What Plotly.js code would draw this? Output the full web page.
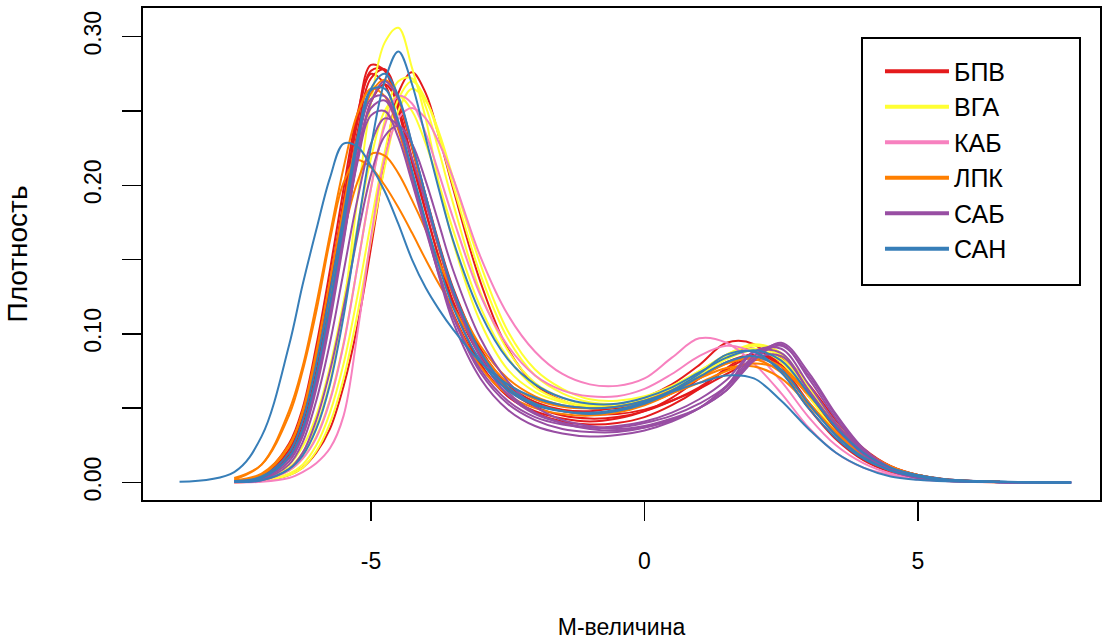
<!DOCTYPE html>
<html>
<head>
<meta charset="utf-8">
<script src="https://cdn.plot.ly/plotly-3.0.1.min.js"></script>
<style>html,body{margin:0;padding:0;background:#fff}#chart{width:1104px;height:644px}</style>
</head>
<body>
<div id="chart"></div>
<script>
// M-value grid (x) shared by all density curves
const mGrid = [-8.5,-7.5,-7,-6.5,-6.25,-6,-5.75,-5.5,-5.25,-5,-4.75,-4.5,-4.25,-4,-3.75,-3.5,-3,-2.5,-2,-1.5,-1,-0.5,0,0.5,1,1.5,2,2.5,3,3.5,4,4.5,5,5.5,6.5,7.8];

const groupNames = ["БПВ","ВГА","КАБ","ЛПК","САБ","САН"];
const groupColors = ["#E41A1C","#FFFF33","#F781BF","#FF7F00","#984EA3","#377EB8"];

// density values, one row per array
const densBPV = [
 [null,0.001,0.004,0.022,0.045,0.085,0.135,0.19,0.245,0.281,0.277,0.25,0.215,0.182,0.15,0.122,0.085,0.064,0.054,0.049,0.048,0.051,0.057,0.066,0.079,0.094,0.093,0.075,0.05,0.029,0.015,0.007,0.003,0.0015,0.0003,null],
 [null,0.001,0.003,0.018,0.038,0.075,0.125,0.18,0.235,0.272,0.278,0.258,0.225,0.19,0.157,0.128,0.088,0.063,0.051,0.045,0.043,0.044,0.048,0.055,0.064,0.076,0.085,0.081,0.06,0.037,0.02,0.01,0.004,0.002,0.0004,null],
 [null,0.001,0.005,0.026,0.05,0.092,0.143,0.198,0.248,0.275,0.268,0.24,0.205,0.172,0.14,0.114,0.079,0.058,0.048,0.043,0.041,0.043,0.048,0.057,0.07,0.085,0.09,0.078,0.054,0.032,0.017,0.008,0.003,0.0015,0.0003,null],
 [null,0,0.001,0.005,0.01,0.02,0.036,0.065,0.105,0.158,0.215,0.262,0.276,0.262,0.232,0.198,0.135,0.09,0.066,0.055,0.05,0.05,0.053,0.06,0.07,0.081,0.086,0.079,0.058,0.036,0.02,0.01,0.005,0.0022,0.0004,null],
 [null,0.0008,0.003,0.017,0.035,0.068,0.113,0.165,0.218,0.256,0.268,0.255,0.226,0.193,0.16,0.131,0.09,0.066,0.054,0.048,0.046,0.046,0.049,0.055,0.063,0.073,0.082,0.084,0.066,0.042,0.023,0.011,0.005,0.002,0.0004,null],
 [null,0.001,0.004,0.02,0.042,0.082,0.132,0.188,0.242,0.277,0.278,0.253,0.218,0.183,0.15,0.12,0.08,0.058,0.047,0.041,0.039,0.04,0.044,0.052,0.063,0.077,0.087,0.084,0.065,0.041,0.022,0.011,0.005,0.002,0.0004,null]
];
const densVGA = [
 [null,0.0005,0.002,0.01,0.02,0.038,0.068,0.118,0.19,0.256,0.296,0.306,0.279,0.245,0.2,0.162,0.108,0.076,0.061,0.054,0.051,0.052,0.056,0.064,0.075,0.085,0.09,0.081,0.058,0.034,0.017,0.008,0.003,0.0012,0.0001,null],
 [null,0.0003,0.001,0.006,0.012,0.025,0.047,0.08,0.125,0.175,0.222,0.258,0.27,0.258,0.232,0.2,0.14,0.097,0.072,0.06,0.054,0.053,0.056,0.063,0.073,0.083,0.09,0.085,0.064,0.039,0.02,0.009,0.004,0.0015,0.0002,null],
 [null,0.0002,0.001,0.005,0.01,0.021,0.04,0.07,0.113,0.163,0.212,0.25,0.265,0.257,0.235,0.205,0.147,0.102,0.076,0.063,0.056,0.055,0.058,0.065,0.075,0.086,0.092,0.086,0.065,0.04,0.021,0.01,0.004,0.0015,0.0002,null],
 [null,0.0003,0.0015,0.008,0.016,0.031,0.056,0.094,0.145,0.198,0.243,0.27,0.272,0.253,0.222,0.188,0.128,0.089,0.067,0.057,0.052,0.052,0.055,0.062,0.072,0.083,0.089,0.083,0.062,0.038,0.02,0.009,0.004,0.0015,0.0002,null],
 [null,0.0005,0.002,0.012,0.024,0.045,0.078,0.122,0.172,0.218,0.25,0.26,0.25,0.228,0.2,0.17,0.118,0.084,0.064,0.055,0.051,0.051,0.055,0.063,0.074,0.086,0.093,0.087,0.064,0.039,0.02,0.009,0.004,0.0015,0.0002,null]
];
const densKAB = [
 [null,0,0.0005,0.003,0.007,0.013,0.023,0.045,0.1,0.165,0.218,0.245,0.252,0.245,0.228,0.205,0.152,0.113,0.088,0.073,0.066,0.065,0.07,0.084,0.097,0.094,0.08,0.06,0.037,0.02,0.01,0.005,0.002,0.001,0.0001,null],
 [null,0.0003,0.0015,0.008,0.016,0.03,0.055,0.093,0.145,0.198,0.24,0.26,0.255,0.235,0.207,0.178,0.126,0.092,0.072,0.062,0.058,0.058,0.063,0.073,0.085,0.092,0.087,0.068,0.044,0.025,0.013,0.006,0.0025,0.001,0.0001,null]
];
const densLPK = [
 [null,0.003,0.012,0.045,0.075,0.115,0.163,0.202,0.217,0.212,0.2,0.185,0.168,0.15,0.133,0.118,0.088,0.067,0.056,0.051,0.05,0.051,0.055,0.062,0.07,0.077,0.078,0.07,0.052,0.033,0.018,0.009,0.004,0.0017,0.0003,null],
 [null,0.0015,0.006,0.025,0.047,0.083,0.125,0.168,0.202,0.221,0.22,0.208,0.19,0.17,0.148,0.127,0.092,0.07,0.058,0.052,0.05,0.051,0.054,0.06,0.067,0.075,0.08,0.076,0.059,0.038,0.021,0.01,0.005,0.002,0.0003,null],
 [null,0.002,0.012,0.048,0.078,0.12,0.167,0.212,0.248,0.265,0.26,0.237,0.205,0.172,0.14,0.113,0.078,0.059,0.05,0.046,0.045,0.047,0.052,0.06,0.07,0.08,0.083,0.074,0.054,0.034,0.019,0.009,0.004,0.0018,0.0003,null],
 [null,0.001,0.005,0.024,0.048,0.088,0.136,0.186,0.232,0.262,0.271,0.258,0.226,0.19,0.156,0.126,0.087,0.064,0.053,0.048,0.046,0.048,0.053,0.061,0.071,0.08,0.084,0.078,0.06,0.039,0.022,0.011,0.005,0.002,0.0004,null]
];
const densSAB = [
 [null,0.0008,0.003,0.017,0.036,0.071,0.118,0.172,0.225,0.258,0.26,0.24,0.207,0.173,0.14,0.112,0.074,0.053,0.042,0.036,0.034,0.034,0.037,0.042,0.05,0.062,0.083,0.085,0.062,0.038,0.019,0.008,0.003,0.0012,0.0002,0],
 [null,0.0008,0.003,0.016,0.034,0.067,0.112,0.164,0.215,0.247,0.25,0.232,0.202,0.17,0.139,0.112,0.076,0.055,0.044,0.039,0.037,0.038,0.041,0.047,0.056,0.069,0.088,0.087,0.062,0.037,0.019,0.008,0.003,0.0012,0.0002,0],
 [null,0.0006,0.0025,0.014,0.031,0.063,0.108,0.162,0.217,0.256,0.27,0.258,0.228,0.193,0.158,0.127,0.084,0.059,0.046,0.04,0.037,0.037,0.04,0.045,0.053,0.065,0.088,0.09,0.066,0.04,0.02,0.009,0.004,0.0014,0.0002,0],
 [null,0.0005,0.002,0.012,0.027,0.055,0.094,0.142,0.19,0.228,0.245,0.24,0.218,0.188,0.157,0.128,0.087,0.061,0.047,0.04,0.036,0.035,0.037,0.042,0.05,0.065,0.085,0.093,0.07,0.043,0.021,0.009,0.004,0.0015,0.0002,0],
 [null,0.0004,0.0015,0.009,0.02,0.042,0.075,0.118,0.165,0.207,0.233,0.24,0.228,0.203,0.173,0.143,0.097,0.068,0.051,0.042,0.038,0.036,0.038,0.043,0.05,0.062,0.082,0.094,0.074,0.046,0.023,0.01,0.004,0.0015,0.0002,0],
 [null,0.0007,0.003,0.016,0.034,0.068,0.115,0.168,0.22,0.252,0.257,0.24,0.208,0.172,0.138,0.108,0.07,0.049,0.038,0.033,0.031,0.032,0.035,0.041,0.05,0.064,0.083,0.092,0.072,0.045,0.022,0.01,0.004,0.0015,0.0002,0]
];
const densSAN = [
 [0.0004,0.007,0.031,0.092,0.133,0.17,0.205,0.228,0.226,0.213,0.196,0.174,0.15,0.131,0.116,0.103,0.081,0.066,0.057,0.052,0.05,0.051,0.055,0.061,0.067,0.072,0.07,0.055,0.036,0.02,0.01,0.004,0.0018,0.0008,0.0002,0],
 [null,0.0003,0.0015,0.009,0.018,0.036,0.066,0.112,0.17,0.226,0.27,0.29,0.268,0.232,0.196,0.163,0.114,0.083,0.066,0.057,0.053,0.053,0.057,0.064,0.074,0.084,0.089,0.082,0.06,0.037,0.02,0.01,0.005,0.0022,0.0006,0],
 [null,0.001,0.004,0.02,0.042,0.08,0.128,0.18,0.232,0.264,0.265,0.243,0.21,0.176,0.145,0.118,0.082,0.062,0.052,0.048,0.047,0.049,0.054,0.062,0.073,0.086,0.088,0.074,0.05,0.03,0.016,0.008,0.004,0.0018,0.0004,0],
 [null,0.0008,0.003,0.017,0.036,0.072,0.12,0.174,0.228,0.265,0.275,0.26,0.228,0.193,0.159,0.13,0.088,0.064,0.053,0.048,0.046,0.048,0.053,0.061,0.071,0.081,0.085,0.076,0.053,0.032,0.017,0.008,0.004,0.0018,0.0004,0]
];

const yTickVals = [0,0.05,0.1,0.15,0.2,0.25,0.3];
const yTickText = ["0.00","","0.10","","0.20","","0.30"];
const xTickVals = [-5,0,5];
const xTickText = ["-5","0","5"];

const groups = [densBPV, densVGA, densKAB, densLPK, densSAB, densSAN];
const traces = [];
groups.forEach((g, gi) => {
  g.forEach(yv => {
    traces.push({
      type: "scatter", mode: "lines", x: mGrid, y: yv,
      line: {color: groupColors[gi], width: 2, shape: "spline", smoothing: 1},
      connectgaps: false, showlegend: false, hoverinfo: "skip", name: groupNames[gi]
    });
  });
});
groupNames.forEach((n, gi) => {
  traces.push({
    type: "scatter", mode: "lines", x: [null], y: [null], name: n,
    line: {color: groupColors[gi], width: 4}, showlegend: true, hoverinfo: "skip"
  });
});

const narrow = "Liberation Sans Narrow, Arial Narrow, Liberation Sans, Arial, sans-serif";
const wide = "Liberation Sans, Arial, sans-serif";

const layout = {
  width: 1104, height: 644,
  paper_bgcolor: "#ffffff", plot_bgcolor: "#ffffff",
  margin: {l: 143, r: 4, t: 8, b: 144, pad: 0},
  showlegend: true,
  xaxis: {
    range: [-9.168, 8.327], tickvals: xTickVals, ticktext: xTickText,
    ticks: "outside", ticklen: 19, tickwidth: 1.5, tickcolor: "#000",
    showline: true, mirror: true, linecolor: "#000", linewidth: 2,
    showgrid: false, zeroline: false,
    tickfont: {family: narrow, size: 23, color: "#000"},
    ticklabelstandoff: 20,
    title: {text: "М-величина", font: {family: narrow, size: 23, color: "#000"}, standoff: 46}
  },
  yaxis: {
    range: [-0.0118, 0.3193], tickvals: yTickVals, ticktext: yTickText, tickangle: -90,
    ticks: "outside", ticklen: 19, tickwidth: 1.5, tickcolor: "#000",
    showline: true, mirror: true, linecolor: "#000", linewidth: 2,
    showgrid: false, zeroline: false,
    tickfont: {family: narrow, size: 23, color: "#000"},
    ticklabelstandoff: 12,
    title: {text: "Плотность", font: {family: wide, size: 28, color: "#000"}, standoff: 44}
  },
  shapes: [{
    type: "rect", xref: "paper", yref: "paper", layer: "above",
    x0: 0.7513, x1: 0.9791, y0: 0.4370, y1: 0.9390,
    line: {color: "#000", width: 2}, fillcolor: "rgba(255,255,255,1)"
  }],
  legend: {
    x: 0.7701, y: 0.9177, xanchor: "left", yanchor: "top",
    bgcolor: "rgba(0,0,0,0)", borderwidth: 0,
    font: {family: wide, size: 25, color: "#000"},
    itemwidth: 64, tracegroupgap: 0
  }
};

Plotly.newPlot("chart", traces, layout, {displayModeBar: false, staticPlot: true});
</script>
</body>
</html>
